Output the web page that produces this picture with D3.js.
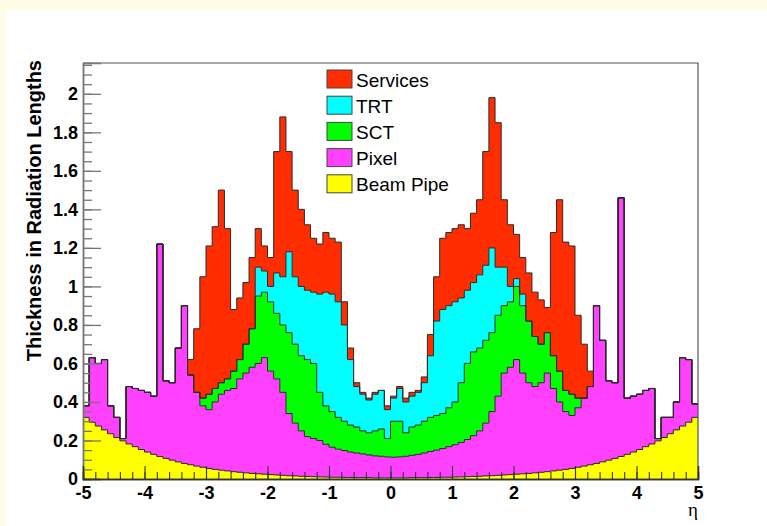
<!DOCTYPE html>
<html>
<head>
<meta charset="utf-8">
<script src="https://cdn.jsdelivr.net/npm/d3@7"></script>
<style>
  html, body { margin: 0; padding: 0; background: #fffde6; }
  svg { display: block; }
</style>
</head>
<body>
<svg id="chart" width="767" height="526"></svg>
<script>
// ---- data (material thickness per subsystem, X0, in eta bins of width 0.1 from -5 to 5) ----
const etaMin = -5, etaMax = 5, nBins = 100;

const beamPipe = [.32,.295,.275,.255,.235,.215,.198,.182,.168,.153,.14,.128,.117,.107,.098,.089,.081,.074,.067,.061,
  .055,.05,.046,.042,.038,.035,.032,.029,.027,.025,.023,.021,.019,.017,.016,.014,.013,.012,.011,.010,
  .009,.009,.008,.008,.007,.007,.007,.006,.006,.006,
  .006,.006,.006,.007,.007,.007,.008,.008,.009,.009,.010,.011,.012,.013,.014,.016,.017,.019,.021,.023,
  .025,.027,.029,.032,.035,.038,.042,.046,.05,.055,.061,.067,.074,.081,.089,.098,.107,.117,.128,.14,
  .153,.168,.182,.198,.215,.235,.255,.275,.295,.32];

const pixel = [.06,.335,.325,.365,.145,.105,.012,.298,.302,.307,.31,.302,1.103,.403,.402,.591,.819,.466,.383,.319,
  .305,.35,.394,.418,.432,.485,.518,.551,.573,.605,.537,.499,.431,.323,.274,.236,.207,.198,.189,.17,
  .156,.146,.14,.132,.128,.123,.118,.114,.112,.109,
  .107,.109,.112,.116,.121,.128,.135,.142,.149,.159,.168,.179,.193,.212,.236,.274,.333,.411,.529,.557,
  .595,.523,.471,.448,.465,.512,.428,.354,.30,.275,.309,.353,.406,.819,.631,.412,.393,1.343,.292,.29,
  .287,.292,.288,.012,.105,.085,.145,.355,.325,.07];

const sct = [0,0,0,0,0,0,0,0,0,0,0,0,0,0,0,0,0,0,0,.04,
  .08,.07,.06,.06,.09,.10,.15,.20,.35,.34,.36,.34,.35,.42,.41,.39,.40,.39,.25,.20,
  .185,.165,.152,.14,.135,.12,.115,.13,.142,.095,
  .187,.185,.122,.147,.152,.165,.177,.18,.182,.202,.222,.31,.395,.435,.43,.43,.41,.42,.35,.34,
  .38,.35,.32,.26,.20,.21,.17,.16,.11,.11,.05,0,0,0,0,0,0,0,0,0,
  0,0,0,0,0,0,0,0,0,0];

const trt = [0,0,0,0,0,0,0,0,0,0,0,0,0,0,0,0,0,0,0,0,
  0,0,0,0,0,0,0,0,.15,.11,.08,.21,.25,.42,.35,.36,.36,.37,.51,.59,
  .61,.60,.50,.34,.21,.19,.17,.19,.20,.15,
  .12,.17,.16,.16,.17,.20,.32,.49,.54,.53,.52,.44,.38,.36,.38,.39,.44,.25,.20,.08,
  .04,.06,0,0,0,0,0,0,0,0,0,0,0,0,0,0,0,0,0,0,
  0,0,0,0,0,0,0,0,0,0];

const services = [0,0,0,0,0,0,0,0,0,0,0,0,0,0,0,0,0,.08,.33,.63,
  .77,.84,1.00,.78,.32,.32,.32,.37,.20,.13,.15,.63,.83,.52,.45,.40,.34,.28,.26,.31,
  .29,.31,.12,.06,.02,.01,.01,.01,0,.02,
  .01,.01,.02,.02,.01,.03,.11,.23,.37,.38,.38,.38,.32,.36,.39,.59,.78,.75,.35,.32,
  .23,.19,.25,.23,.23,.13,.64,.89,.77,.77,.43,.28,.08,0,0,0,0,0,0,0,
  0,0,0,0,0,0,0,0,0,0];

const seriesKeys   = ["beamPipe", "pixel", "sct", "trt", "services"];
const seriesData   = { beamPipe, pixel, sct, trt, services };
const legendKeys   = ["services", "trt", "sct", "pixel", "beamPipe"];
const seriesLabels = { services: "Services", trt: "TRT", sct: "SCT", pixel: "Pixel", beamPipe: "Beam Pipe" };
const seriesColors = { services: "#ff2d00", trt: "#00ffff", sct: "#00ff00", pixel: "#ff40ff", beamPipe: "#ffff00" };

const yTickValues = [0, 0.2, 0.4, 0.6, 0.8, 1, 1.2, 1.4, 1.6, 1.8, 2];
const xTickValues = [-5, -4, -3, -2, -1, 0, 1, 2, 3, 4, 5];
const yMax = 2.16;

// ---- layout ----
const svg = d3.select("#chart");
const plotL = 83, plotR = 698, plotT = 63, plotB = 479;

svg.append("rect").attr("x", 6).attr("y", 10).attr("width", 761).attr("height", 516).attr("fill", "#ffffff");

const x = d3.scaleLinear().domain([etaMin, etaMax]).range([plotL, plotR]);
const y = d3.scaleLinear().domain([0, yMax]).range([plotB, plotT]);

const binWidth = (etaMax - etaMin) / nBins;
const rows = d3.range(nBins).map(i => {
  const r = { lo: etaMin + i * binWidth, hi: etaMin + (i + 1) * binWidth };
  seriesKeys.forEach(k => r[k] = seriesData[k][i]);
  return r;
});

const stacked = d3.stack().keys(seriesKeys)(rows);

const area = d3.area().x(p => x(p.e)).y0(p => y(p.y0)).y1(p => y(p.y1));
const line = d3.line().x(p => x(p.e)).y(p => y(p.y1));

const pts = layer => layer.flatMap((d, i) => [
  { e: rows[i].lo, y0: d[0], y1: d[1] },
  { e: rows[i].hi, y0: d[0], y1: d[1] }
]);

const g = svg.append("g");
stacked.forEach(layer => {
  g.append("path").attr("d", area(pts(layer))).attr("fill", seriesColors[layer.key]).attr("stroke", "none");
});
stacked.forEach(layer => {
  g.append("path").attr("d", line(pts(layer))).attr("fill", "none").attr("stroke", "#2a2a2a").attr("stroke-width", 1);
});

// frame
svg.append("path").attr("d", `M${plotL},${plotT}H${plotR}V${plotB}`).attr("fill", "none")
  .attr("stroke", "#555").attr("stroke-width", 1.2);

// axes
const fontLab = "Liberation Sans, Arial, Helvetica, sans-serif";

const yMinor = svg.append("g").attr("transform", `translate(${plotL},0)`)
  .call(d3.axisLeft(y).tickValues(d3.range(0, yMax + 1e-9, 0.05)).tickSize(-9).tickFormat(""));
const yMajor = svg.append("g").attr("transform", `translate(${plotL},0)`)
  .call(d3.axisLeft(y).tickValues(yTickValues).tickSize(-18).tickPadding(5).tickFormat(d => String(+d.toFixed(1))));
[yMinor, yMajor].forEach(a => {
  a.selectAll("line").attr("stroke", "#777").attr("stroke-width", 1.3);
  a.select(".domain").attr("stroke", "#777").attr("stroke-width", 1.5);
});
yMajor.selectAll("text").attr("font-family", fontLab).attr("font-weight", "bold").attr("font-size", 18).attr("fill", "#000");

const xMinor = svg.append("g").attr("transform", `translate(0,${plotB})`)
  .call(d3.axisBottom(x).tickValues(d3.range(etaMin, etaMax + 1e-9, 0.2)).tickSize(-7).tickFormat(""));
const xMajor = svg.append("g").attr("transform", `translate(0,${plotB})`)
  .call(d3.axisBottom(x).tickValues(xTickValues).tickSize(-13).tickPadding(7).tickFormat(d => String(d)));
[xMinor, xMajor].forEach(a => {
  a.selectAll("line").attr("stroke", "#333").attr("stroke-width", 1.1);
  a.select(".domain").attr("stroke", "#333").attr("stroke-width", 1.5);
});
xMajor.selectAll("text").attr("font-family", fontLab).attr("font-weight", "bold").attr("font-size", 18).attr("fill", "#000");

// axis titles
svg.append("text").attr("transform", "translate(41,60) rotate(-90)").attr("text-anchor", "end")
  .attr("font-family", fontLab).attr("font-weight", "bold").attr("font-size", 20).attr("fill", "#000")
  .text("Thickness in Radiation Lengths");
svg.append("text").attr("x", 698).attr("y", 516).attr("text-anchor", "end")
  .attr("font-family", "Liberation Serif, DejaVu Serif, serif").attr("font-size", 19).attr("fill", "#000")
  .text("η");

// legend
const leg = svg.append("g");
legendKeys.forEach((k, i) => {
  const yy = 70 + i * 26.2;
  leg.append("rect").attr("x", 327).attr("y", yy).attr("width", 25).attr("height", 18)
    .attr("fill", seriesColors[k]).attr("stroke", "#444").attr("stroke-width", 1);
  leg.append("text").attr("x", 356).attr("y", yy + 16.5).attr("font-family", fontLab)
    .attr("font-size", 19).attr("fill", "#000").text(seriesLabels[k]);
});
</script>
</body>
</html>
